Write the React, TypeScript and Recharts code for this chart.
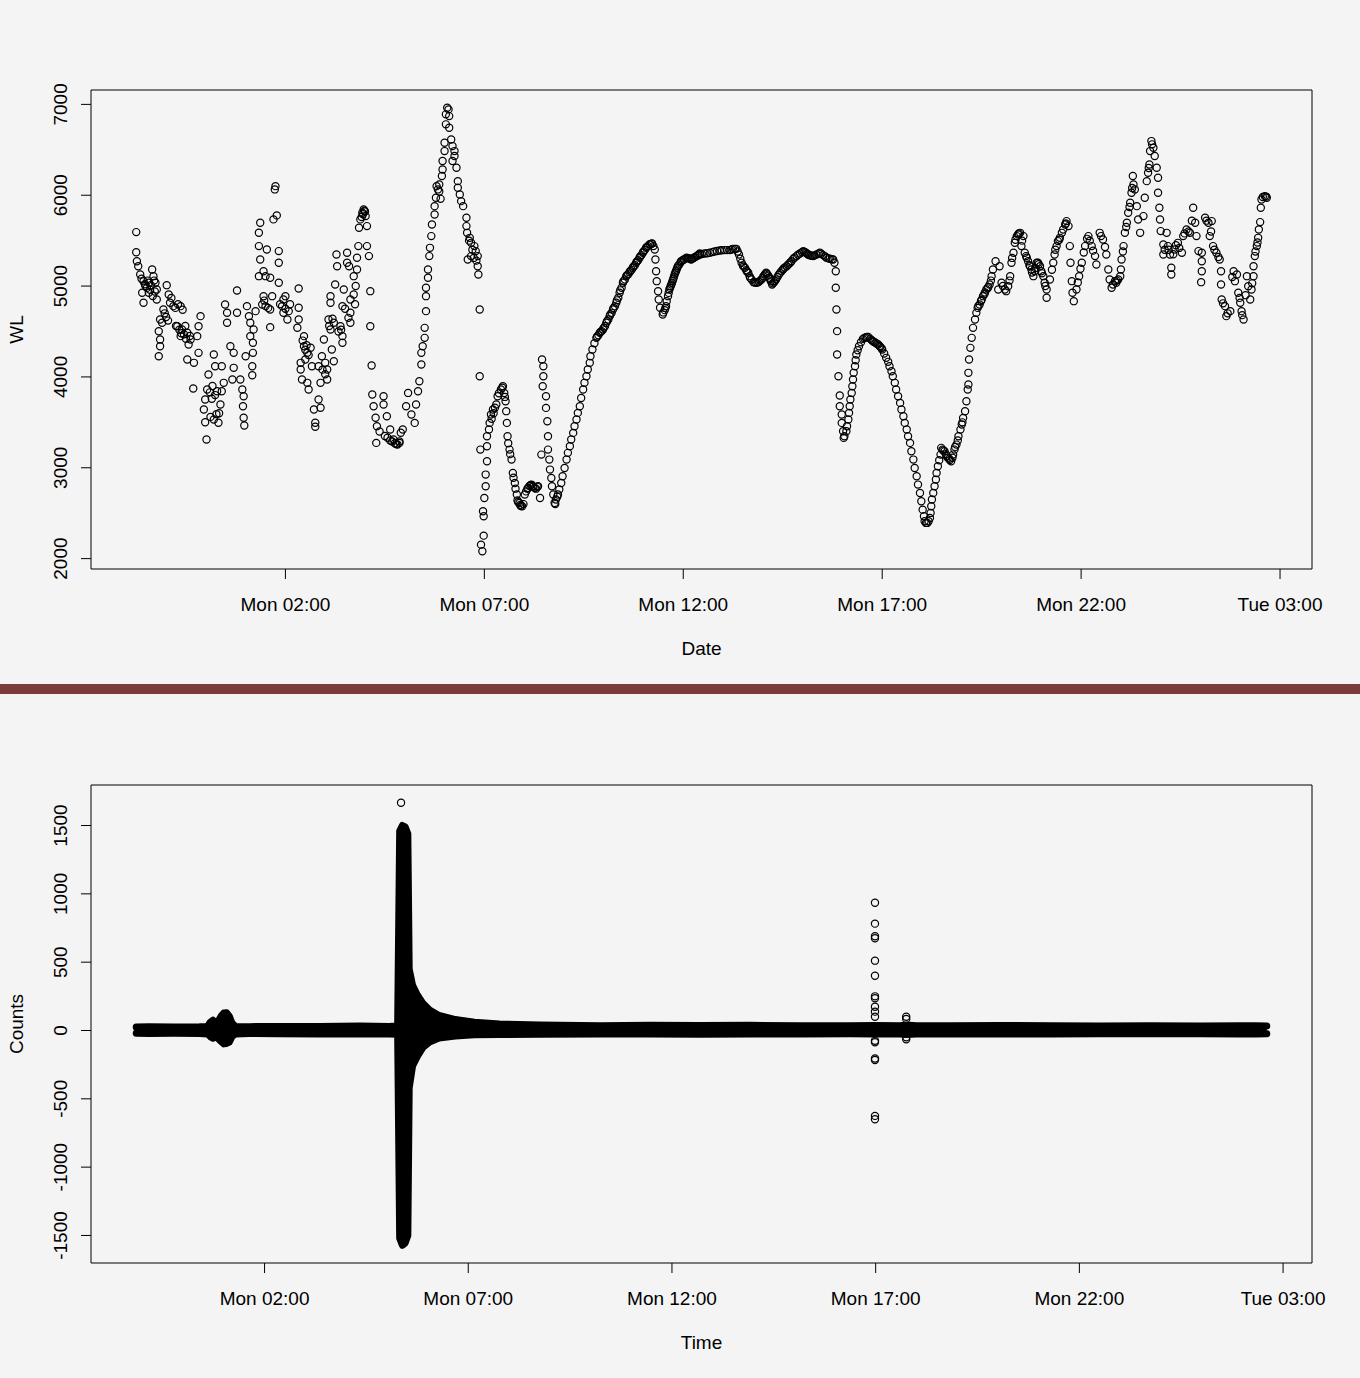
import React from 'react';
import { ScatterChart, ComposedChart, Scatter, Area, XAxis, YAxis, ReferenceArea, Label } from 'recharts';

// ---------- tick labels ----------
const timeTicks = [120, 420, 720, 1020, 1320, 1620]; // minutes since Mon 00:00
const timeTickLabels = ['Mon 02:00', 'Mon 07:00', 'Mon 12:00', 'Mon 17:00', 'Mon 22:00', 'Tue 03:00'];
const wlTicks = [2000, 3000, 4000, 5000, 6000, 7000];
const countTicks = [-1500, -1000, -500, 0, 500, 1000, 1500];

// ---------- WL series: [minutes since Mon 00:00, WL] ----------
const wlNight: [number, number][] = [
  [-105,5594],[-105,5373],[-104,5274],[-102,5219],[-99,5128],[-94,5054],[-91,5000],[-86,5036],[-81,5183],[-79,5109],[-76,5036],[-74,4963],[-96,4926],[-94,4816],[-86,4926],[-74,4852],[-59,5010],[-56,4907],[-54,4816],[-49,4779],[-38,4779],[-64,4742],[-69,4632],[-66,4596],[-71,4503],[-69,4412],[-69,4338],[-71,4228],[-43,4558],[-36,4522],[-28,4486],[-23,4412],[-38,4449],[-26,4357],[-8,4669],[-11,4558],[-13,4449],[-11,4265],[-18,4155],[-28,4192],[-19,3872],[12,4247],[4,4027],[2,3861],[-1,3751],[-3,3641],[-1,3501],[1,3311],[12,3531],[19,3495],[17,3843],[24,3843],[22,3696],[27,3935],[14,4118],[24,4118],[29,4797],[32,4706],[32,4596],[47,4952],[47,4706],[37,4338],[42,4265],[42,4100],[40,3971],[52,3971],[55,3861],[57,3788],[56,3678],[57,3550],[58,3465],[60,4228],[62,4779],[65,4669],[67,4596],[72,4522],[67,4449],[71,4376],[71,4265],[70,4118],[70,4019],[75,4724],[80,5109],[82,5293],[80,5440],[80,5587],[82,5697],[87,5164],[90,5109],[92,5403],[97,5092],[100,4889],[87,4889],[85,4797],[90,4779],[97,4742],[97,4548],[102,5734],[107,5778],[105,6100],[104,6064],[110,5385],[110,5257],[110,5036],[117,4852],[115,4779],[117,4706],[123,4632],[125,4724],[120,4889],[140,4974],[140,4761],[140,4632],[138,4541],[148,4449],[148,4338],[153,4265],[150,4192],[143,4155],[143,4082],[145,3971],[153,3935],[155,3861],[160,4118],[158,4321],[163,3641],[165,3495],[165,3451],[170,3751],[173,3660],[173,3935],[170,4118],[175,4228],[178,4412],[180,4155],[183,4082],[183,3971],[188,4816],[188,4889],[185,4632],[188,4522],[193,4596],[190,4302],[193,4173],[195,5018],[197,5348],[198,5219],[206,4779],[208,4963],[213,5367],[213,5257],[216,5219],[218,4852],[218,4706],[218,4596],[206,4449],[206,4376],[203,4558],[223,5109],[226,5000],[228,5183],[223,4907],[228,5312],[230,5440],[231,5642],[233,5734],[236,5807],[238,5844],[241,5770],[243,5660],[243,5440],[246,5330],[248,4944],[248,4558],[250,4126],[251,3806],[253,3678],[256,3550],[258,3458],[257,3274],[268,3788],[268,3696],[273,3567],[278,3421],[283,3311],[289,3256],[294,3385],
  [-89,4980],[-84,4960],[-80,4890],[-77,4940],[-52,4870],[-46,4760],[-42,4800],[-35,4740],[-40,4520],[-33,4470],[-31,4560],[-24,4450],[6,3830],[9,3760],[14,3800],[7,3560],[16,3590],[112,4800],[120,4750],[127,4800],[150,4300],[155,4240],[176,4080],[180,4030],[210,4750],[215,4650],[225,4800],[235,5760],[240,5820],[262,3400],[270,3350],[278,3300],[285,3270],[292,3290],
  [-97,5080],[-92,5020],[-88,5060],[-83,5010],[-78,5060],[-62,4700],[-60,4660],[-57,4620],[-45,4560],[-37,4480],[-30,4420],[10,3900],[20,3600],[88,4840],[94,4760],[146,4400],[152,4350],[186,4560],[191,4640],[200,4500],[204,4520],[237,5790],[239,5830],[274,3330],[281,3290],[287,3260],
];

const wlDawn: [number, number][] = [
  [292,3274],[297,3421],[305,3824],[302,3677],[310,3586],[315,3494],[317,3696],[320,3843],[322,3953],[325,4136],[325,4265],[327,4338],[330,4430],[330,4540],[332,4724],[332,4889],[332,4981],[335,5091],[335,5183],[337,5330],[338,5421],[340,5550],[341,5678],[345,5788],[345,5880],[347,5972],[350,6064],[352,6119],[356,6211],[357,6284],[357,6376],[360,6486],[360,6578],[362,6780],[362,6890],[364,6963],[366,6945],[367,6871],[367,6743],[370,6614],[372,6541],[375,6486],[375,6431],[372,6376],[378,6302],[380,6155],[380,6082],[383,6009],[385,5935],[388,5880],[393,5752],[393,5660],[394,5586],[398,5531],[400,5476],[405,5440],[407,5385],[395,5293],[400,5330],[410,5330],[410,5219],[411,5128],[413,4742],[413,4008],
  [348,6100],[352,6040],[354,5960],[397,5500],[402,5400],[404,5310],[408,5280],
  [414,3200],[424,3237],[424,3072],[422,2925],[422,2797],[420,2668],[418,2521],[419,2466],[419,2253],[415,2154],[417,2081],[424,3347],[427,3421],[428,3494],[430,3586],[433,3641],[438,3696],[440,3788],[445,3861],[448,3898],[450,3824],[452,3733],[453,3623],[454,3494],[455,3347],[458,3200],[461,3090],[463,2943],[466,2833],[469,2705],[473,2613],[477,2576],[481,2705],[486,2778],[491,2815],[496,2778],[501,2797],[504,2668],[506,3145],[507,4192],[509,4118],[509,4008],[508,3898],[513,3788],[513,3659],[515,3512],[516,3347],[516,3200],[518,3090],[519,2980],[521,2888],[522,2797],[524,2705],[526,2613],
  [431,3540],[434,3600],[436,3660],[470,2640],[474,2590],[479,2600],[483,2740],[488,2800],[494,2790],[498,2770],[527,2600],[530,2680],
  [442,3820],[447,3880],[451,3780],[456,3270],[459,3150],[464,2890],[467,2770],[471,2620],[475,2580],[485,2770],[490,2810],[493,2800],[500,2790],
];

const wlDay: [number, number][] = [
  [528,2650],[531,2705],[533,2760],[536,2833],[538,2907],[541,2998],[544,3090],[546,3164],[549,3237],[551,3311],[554,3384],[556,3457],[559,3531],[561,3604],[564,3677],[566,3769],[569,3861],[571,3935],[574,4008],[576,4081],[579,4155],[580,4228],[583,4302],[589,4430],[592,4459],[594,4485],[597,4504],[599,4522],[602,4559],[604,4595],[607,4632],[609,4669],[612,4705],[614,4742],[617,4779],[619,4816],[622,4871],[624,4926],[627,4981],[629,5036],[632,5073],[634,5109],[637,5131],[639,5153],[642,5179],[644,5201],[647,5230],[649,5256],[652,5285],[654,5311],[657,5341],[659,5366],[662,5396],[664,5421],[667,5440],[669,5458],[673,5469],[677,5403],[678,5293],[679,5164],[680,5054],[682,4944],[683,4852],[685,4761],[689,4687],[692,4735],[694,4779],[697,4889],[699,4962],[701,4999],[703,5036],[705,5080],[707,5128],[709,5164],[711,5201],[714,5238],[717,5275],[721,5293],[725,5311],[729,5304],[732,5293],[736,5311],[740,5330],[743,5344],[745,5359],[745,5348],[752,5359],[760,5366],[767,5381],[775,5392],[782,5396],[790,5396],[795,5410],[800,5410],[804,5348],[808,5256],[810,5227],[813,5201],[815,5175],[818,5146],[820,5109],[823,5073],[826,5043],[830,5036],[834,5047],[838,5073],[841,5109],[845,5146],[848,5117],[850,5091],[852,5054],[854,5017],[857,5043],[860,5073],[864,5124],[868,5164],[871,5190],[876,5219],[880,5249],[883,5274],[886,5300],[891,5330],[896,5359],[901,5385],[905,5366],[908,5348],[912,5337],[916,5330],[921,5348],[926,5366],[931,5341],[936,5311],[941,5300],[946,5293],[948,5256],
  [586,4370],[590,4445],[595,4495],[600,4540],[605,4614],[610,4687],[615,4760],[620,4843],[625,4953],[630,5055],[635,5120],[640,5165],[645,5215],[650,5270],[655,5326],[660,5381],[665,5430],[670,5462],[672,5466],[675,5440],[690,4710],[693,4757],[695,4834],[698,4925],[700,4980],[702,5018],[704,5058],[706,5104],[708,5146],[710,5183],[712,5220],[716,5262],[719,5285],[723,5302],[727,5308],[731,5298],[734,5302],[738,5320],[742,5337],
  [748,5352],[756,5362],[764,5374],[771,5386],[778,5394],[786,5396],[793,5402],[798,5410],[802,5380],[806,5300],[811,5214],[816,5160],[821,5090],[828,5040],[832,5040],[836,5060],[840,5090],[843,5128],[846,5135],[851,5075],[855,5030],[858,5055],[862,5100],[866,5145],[870,5178],[873,5205],[878,5235],[882,5262],[888,5315],[893,5345],[899,5372],[903,5376],[907,5357],[910,5342],[914,5333],[918,5338],[924,5357],[928,5355],[934,5326],[939,5305],[944,5296],
];

const wlEvening: [number, number][] = [
  [950,5164],[950,4981],[951,4742],[952,4504],[952,4247],[954,4008],[956,3795],[956,3677],[959,3586],[959,3494],[961,3402],[962,3329],[963,3347],[966,3402],[967,3457],[969,3531],[970,3604],[971,3677],[972,3751],[974,3824],[975,3898],[976,3971],[977,4045],[979,4118],[980,4184],[981,4247],[983,4294],[985,4338],[988,4382],[991,4419],[995,4434],[999,4441],[1002,4419],[1006,4393],[1010,4375],[1014,4357],[1017,4331],[1020,4302],[1023,4258],[1026,4210],[1029,4166],[1031,4118],[1034,4063],[1036,4008],[1039,3935],[1041,3861],[1044,3788],[1047,3714],[1049,3641],[1052,3567],[1054,3494],[1057,3421],[1059,3347],[1062,3274],[1064,3182],[1067,3090],[1069,2998],[1072,2907],[1074,2815],[1077,2723],[1079,2631],[1081,2539],[1083,2466],[1084,2411],[1086,2393],[1088,2393],[1090,2411],[1092,2448],[1093,2503],[1094,2576],[1095,2650],[1097,2723],[1099,2797],[1101,2870],[1102,2943],[1104,3017],[1106,3083],[1108,3145],[1109,3219],[1114,3182],[1119,3109],[1124,3072],[1127,3145],[1132,3255],[1135,3347],[1140,3476],[1142,3549],[1145,3622],[1147,3733],[1149,3861],[1150,3916],[1150,4045],[1151,4192],[1153,4320],[1155,4430],[1157,4540],[1160,4632],[1162,4705],[1167,4797],[1172,4889],[1177,4962],[1182,5017],[1185,5109],[1187,5183],[1191,5274],[1195,4962],
  [1111,3200],[1116,3150],[1121,3100],[1129,3200],[1138,3420],[1141,3500],[1164,4760],[1170,4850],[1175,4930],[1180,4990],
  [993,4428],[997,4440],[1004,4405],[1008,4385],[1012,4366],[1016,4340],[1019,4315],[1112,3190],[1117,3130],[1122,3085],[1126,3110],[1130,3230],[1134,3300],[1165,4780],[1169,4835],[1174,4910],[1179,4975],[1184,5060],
];

const wlLate: [number, number][] = [
  [1197,5219],[1200,5036],[1205,4962],[1210,4999],[1213,5109],[1215,5256],[1218,5366],[1223,5550],[1228,5586],[1233,5550],[1230,5440],[1235,5366],[1240,5274],[1245,5183],[1248,5109],[1253,5256],[1258,5219],[1263,5109],[1268,4962],[1268,4871],[1273,5073],[1278,5256],[1283,5440],[1288,5531],[1293,5623],[1298,5715],[1301,5660],[1303,5440],[1304,5256],[1306,5054],[1307,4926],[1309,4834],[1313,4962],[1317,5109],[1321,5256],[1326,5440],[1331,5550],[1336,5440],[1341,5330],[1343,5238],[1348,5586],[1353,5513],[1358,5348],[1361,5183],[1363,5073],[1366,4981],[1371,5054],[1376,5073],[1380,5183],[1381,5293],[1384,5440],[1386,5586],[1389,5697],[1391,5807],[1394,5917],[1396,6027],[1399,6119],[1398,6211],[1401,6064],[1404,5880],[1406,5733],[1409,5586],[1414,5770],[1416,5972],[1419,6155],[1421,6247],[1423,6339],[1424,6486],[1426,6596],[1429,6523],[1431,6431],[1434,6302],[1436,6192],[1436,6027],[1438,5862],[1439,5733],[1440,5605],[1444,5458],[1444,5348],[1449,5586],[1451,5440],[1454,5348],[1456,5201],[1456,5128],[1461,5403],[1466,5476],[1472,5366],[1474,5550],[1479,5623],[1484,5586],[1489,5862],[1492,5697],[1494,5550],[1497,5385],[1502,5366],[1502,5274],[1502,5164],[1501,5043],[1507,5752],[1512,5697],[1517,5715],[1514,5550],[1519,5440],[1524,5366],[1529,5293],[1531,5164],[1531,5017],[1532,4852],[1537,4779],[1539,4669],[1545,4724],[1550,5164],[1552,5054],[1555,5128],[1557,4926],[1560,4816],[1562,4724],[1565,4632],[1570,5109],[1572,4999],[1575,4852],[1577,4962],[1580,5109],[1580,5219],[1582,5330],[1585,5440],[1587,5531],[1588,5623],[1590,5704],[1591,5862],[1592,5954],[1597,5990],[1600,5972],
  [1207,4944],[1220,5476],[1225,5568],[1238,5311],[1243,5219],[1250,5164],[1255,5256],[1260,5164],[1265,5036],[1280,5348],[1285,5495],[1291,5586],[1296,5678],[1368,5017],[1373,5036],[1379,5109],
  [1202,5000],[1212,5060],[1216,5310],[1221,5510],[1226,5580],[1231,5500],[1237,5330],[1242,5230],[1246,5150],[1251,5200],[1256,5240],[1261,5140],[1266,5000],[1276,5180],[1281,5400],[1287,5510],[1297,5690],[1315,5040],[1319,5190],[1324,5370],[1329,5520],[1333,5500],[1338,5390],[1350,5550],[1356,5430],[1374,5060],[1383,5380],[1388,5650],[1393,5870],[1397,6080],[1422,6300],[1427,6560],[1446,5400],[1452,5400],[1459,5350],[1463,5450],[1468,5420],[1476,5580],[1482,5600],[1487,5720],[1509,5720],[1516,5600],[1521,5400],[1527,5320],[1534,4810],[1541,4700],[1548,5100],[1559,4870],[1563,4680],[1568,4900],[1578,5030],[1583,5380],[1586,5480],[1594,5980],[1599,5985],
];

// ---------- Counts: envelope of the dense trace [minute, low, high] ----------
const countBand: [number, number, number][] = [
  [-69,-20,25],[-50,-22,28],[-13,-20,26],[24,-22,28],[36,-25,30],[40,-45,60],[44,-57,75],[48,-45,55],[52,-60,70],[56,-80,105],[60,-98,128],[64,-95,130],[68,-85,105],[72,-45,55],[77,-25,30],[98,-22,28],[142,-24,30],[201,-25,30],[260,-25,32],[304,-25,30],[316,-28,35],
  [319,-1520,1460],[323,-1572,1500],[327,-1555,1490],[331,-1500,1440],[333,-420,450],[338,-260,330],[345,-190,260],[353,-125,200],[363,-85,150],[377,-55,110],[401,-40,80],[429,-32,60],[466,-30,48],[525,-28,40],
  [614,-25,35],[687,-25,38],[761,-27,36],[835,-26,38],[908,-25,35],[982,-24,34],[1019,-26,36],[1056,-25,35],[1065,-30,40],[1080,-25,34],[1129,-25,34],[1203,-26,36],[1277,-25,35],[1350,-24,33],[1424,-24,34],[1498,-24,33],[1557,-25,34],[1579,-26,35],[1596,-24,33],
];
// isolated samples outside the trace [minute, counts]
const countOutliers: [number, number][] = [
  [321,1667],
  [1019,935],[1019,782],[1019,690],[1019,675],[1019,511],[1019,401],[1019,250],[1019,236],[1019,174],[1019,138],[1019,101],[1019,-86],[1019,-75],[1019,-216],[1019,-205],[1019,-625],[1019,-650],
  [1065,101],[1065,85],[1065,-64],[1065,-50],
];

// ---------- derived tables ----------
const wlData = [...wlNight, ...wlDawn, ...wlDay, ...wlEvening, ...wlLate].map(([m, v]) => ({ m, v }));
const bandData = countBand.map(([m, lo, hi]) => ({ m, range: [lo, hi] }));
const outlierData = countOutliers.map(([m, v]) => ({ m, v }));

function rDomain(vals: number[]): [number, number] {
  const lo = Math.min(...vals);
  const hi = Math.max(...vals);
  const pad = (hi - lo) * 0.04;
  return [lo - pad, hi + pad];
}

const topX = rDomain(wlData.map((d) => d.m));
const topY = rDomain(wlData.map((d) => d.v));
const botX = rDomain(countBand.map((d) => d[0]));
const botY = rDomain([...countBand.map((d) => d[1]), ...countBand.map((d) => d[2]), ...countOutliers.map((d) => d[1])]);

// ---------- styling / layout ----------
const FONT = '"Liberation Sans", Arial, Helvetica, sans-serif';
const FS = 19;
const W = 1360;
const LEFT = 91;
const RIGHT_M = 48;
const TOP_M = 90;
const XAXIS_H = 111;
const TOP_H = 680;
const BOT_H = 679;

const Ring = (p: any) =>
  p.cx == null || p.cy == null ? <g /> : (
    <circle cx={p.cx} cy={p.cy} r={3.6} fill="none" stroke="#000" strokeWidth={1.2} />
  );

const makeXTick = (plotBottom: number) => (p: any) => {
  const i = timeTicks.indexOf(p.payload.value);
  return (
    <text x={p.x} y={plotBottom + 42} textAnchor="middle" fontSize={FS} fontFamily={FONT} fill="#000">
      {i >= 0 ? timeTickLabels[i] : ''}
    </text>
  );
};

const YTick = (p: any) => {
  const bx = LEFT - 24;
  return (
    <text x={bx} y={p.y} transform={`rotate(-90 ${bx} ${p.y})`} textAnchor="middle" fontSize={FS} fontFamily={FONT} fill="#000">
      {String(p.payload.value)}
    </text>
  );
};

const titleX = (text: string, plotBottom: number) => () => (
  <text x={LEFT + (W - RIGHT_M - LEFT) / 2} y={plotBottom + 86} textAnchor="middle" fontSize={FS} fontFamily={FONT} fill="#000">
    {text}
  </text>
);
const titleY = (text: string, plotTop: number, plotBottom: number) => () => {
  const cy = (plotTop + plotBottom) / 2;
  return (
    <text x={23} y={cy} transform={`rotate(-90 23 ${cy})`} textAnchor="middle" fontSize={FS} fontFamily={FONT} fill="#000">
      {text}
    </text>
  );
};

export default function App() {
  const topPlotBottom = TOP_H - XAXIS_H;
  const botPlotBottom = BOT_H - XAXIS_H;
  return (
    <div style={{ position: 'absolute', left: 0, top: 0, width: W, height: 1378, background: '#f4f4f4', overflow: 'hidden' }}>
      <div style={{ position: 'absolute', left: 0, top: 0 }}>
        <ScatterChart width={W} height={TOP_H} margin={{ top: TOP_M, right: RIGHT_M, bottom: 0, left: 0 }}>
          <XAxis
            type="number"
            dataKey="m"
            domain={topX}
            allowDataOverflow
            ticks={timeTicks}
            interval={0}
            height={XAXIS_H}
            tickSize={10}
            axisLine={false}
            tickLine={{ stroke: '#000', strokeWidth: 1 }}
            tick={makeXTick(topPlotBottom)}
          >
            <Label content={titleX('Date', topPlotBottom)} />
          </XAxis>
          <YAxis
            type="number"
            dataKey="v"
            domain={topY}
            allowDataOverflow
            ticks={wlTicks}
            interval={0}
            width={LEFT}
            tickSize={10}
            axisLine={false}
            tickLine={{ stroke: '#000', strokeWidth: 1 }}
            tick={YTick}
          >
            <Label content={titleY('WL', TOP_M, topPlotBottom)} />
          </YAxis>
          <Scatter data={wlData} shape={Ring} isAnimationActive={false} />
          <ReferenceArea x1={topX[0]} x2={topX[1]} y1={topY[0]} y2={topY[1]} fill="none" fillOpacity={0} stroke="#000" strokeWidth={1} ifOverflow="visible" />
        </ScatterChart>
      </div>

      <div style={{ position: 'absolute', left: 0, top: 684, width: W, height: 10, background: '#7d3c3c' }} />

      <div style={{ position: 'absolute', left: 0, top: 695 }}>
        <ComposedChart width={W} height={BOT_H} data={bandData} margin={{ top: TOP_M, right: RIGHT_M, bottom: 0, left: 0 }}>
          <XAxis
            type="number"
            dataKey="m"
            domain={botX}
            allowDataOverflow
            ticks={timeTicks}
            interval={0}
            height={XAXIS_H}
            tickSize={10}
            axisLine={false}
            tickLine={{ stroke: '#000', strokeWidth: 1 }}
            tick={makeXTick(botPlotBottom)}
          >
            <Label content={titleX('Time', botPlotBottom)} />
          </XAxis>
          <YAxis
            type="number"
            domain={botY}
            allowDataOverflow
            ticks={countTicks}
            interval={0}
            width={LEFT}
            tickSize={10}
            axisLine={false}
            tickLine={{ stroke: '#000', strokeWidth: 1 }}
            tick={YTick}
          >
            <Label content={titleY('Counts', TOP_M, botPlotBottom)} />
          </YAxis>
          <Area
            type="linear"
            dataKey="range"
            stroke="#000"
            strokeWidth={7}
            strokeLinejoin="round"
            strokeLinecap="round"
            fill="#000"
            fillOpacity={1}
            dot={false}
            activeDot={false}
            isAnimationActive={false}
          />
          <Scatter data={outlierData} dataKey="v" shape={Ring} isAnimationActive={false} />
          <ReferenceArea x1={botX[0]} x2={botX[1]} y1={botY[0]} y2={botY[1]} fill="none" fillOpacity={0} stroke="#000" strokeWidth={1} ifOverflow="visible" />
        </ComposedChart>
      </div>
    </div>
  );
}
